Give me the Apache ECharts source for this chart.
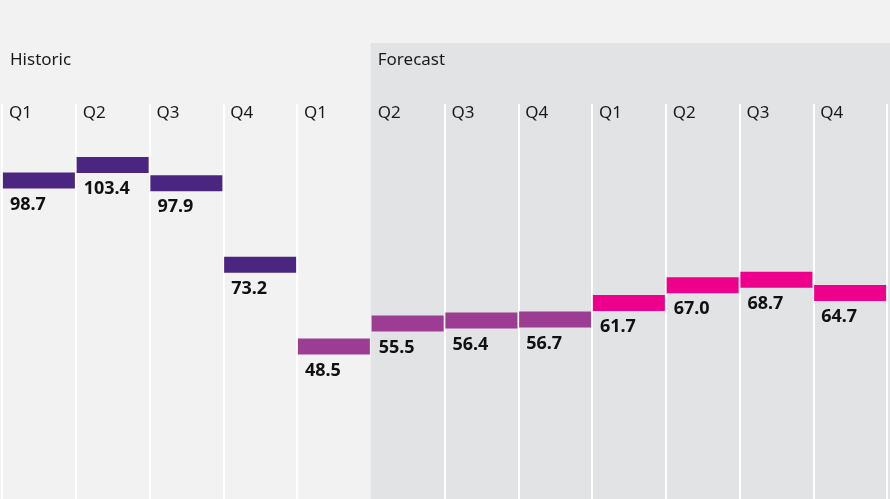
<!DOCTYPE html>
<html>
<head>
<meta charset="utf-8">
<script src="https://cdn.jsdelivr.net/npm/echarts@6/dist/echarts.min.js"></script>
<style>
    html, body { margin: 0; padding: 0; background: #f2f2f2; }
    #chart { width: 890px; height: 499px; }
</style>
</head>
<body>
<div id="chart"></div>
<script>
// quarters across three years
const quarters = ['Q1', 'Q2', 'Q3', 'Q4', 'Q1', 'Q2', 'Q3', 'Q4', 'Q1', 'Q2', 'Q3', 'Q4']
const periodYear = [1, 1, 1, 1, 2, 2, 2, 2, 3, 3, 3, 3]
const values = [98.7, 103.4, 97.9, 73.2, 48.5, 55.5, 56.4, 56.7, 61.7, 67.0, 68.7, 64.7]
const sectionLabels = ['Historic', 'Forecast']
const firstForecast = 5

const FONT = 'Noto Sans'
const yearColors = { 1: '#4b2680', 2: '#9c3c93', 3: '#ec008c' }

const buildSeries = () => {
    return [1, 2, 3].map((y) => ({
        type: 'scatter',
        name: 'Y' + y,
        symbol: 'rect',
        symbolSize: [72, 16],
        symbolOffset: [0, 8],
        silent: true,
        itemStyle: { color: yearColors[y], opacity: 1 },
        label: {
            show: true,
            position: [7, 23],
            align: 'left',
            verticalAlign: 'top',
            lineHeight: 18,
            fontFamily: FONT,
            fontWeight: 'bold',
            fontSize: 18,
            color: '#111',
            formatter: (p) => Number(p.value).toFixed(1)
        },
        emphasis: { disabled: true },
        data: values.map((v, i) => (periodYear[i] === y ? v : '-'))
    }))
}

const option = {
    animation: false,
    backgroundColor: '#f2f2f2',
    grid: { left: 2, right: 3, top: 104, bottom: 0 },
    xAxis: {
        type: 'category',
        position: 'top',
        data: quarters,
        boundaryGap: true,
        axisLine: { show: false },
        axisTick: { show: false },
        splitLine: {
            show: true,
            interval: (i) => i !== firstForecast,
            lineStyle: { color: '#ffffff', width: 2 }
        },
        axisLabel: {
            inside: true,
            margin: 1,
            interval: 0,
            formatter: (v) => '{q|' + v + '}',
            rich: {
                q: {
                    width: 60,
                    align: 'left',
                    lineHeight: 17,
                    fontFamily: FONT,
                    fontSize: 17,
                    color: '#1a1a1a'
                }
            }
        }
    },
    yAxis: {
        type: 'value',
        min: 0,
        max: 119.4,
        show: false,
        splitLine: { show: false }
    },
    series: buildSeries()
}

const chart = echarts.init(document.getElementById('chart'))
chart.setOption(option)

// section backdrop and headings placed from the category scale
const c0 = chart.convertToPixel({ xAxisIndex: 0 }, 0)
const bandW = chart.convertToPixel({ xAxisIndex: 0 }, 1) - c0
const bandLeft = (i) => c0 + bandW * i - bandW / 2
const fx = bandLeft(firstForecast)

const headingStyle = (text) => ({
    text,
    fontFamily: FONT,
    fontSize: 17,
    fill: '#1a1a1a',
    verticalAlign: 'middle'
})

chart.setOption({
    graphic: [
        {
            type: 'rect',
            z: -10,
            silent: true,
            shape: { x: fx, y: 43, width: 890 - fx, height: 460 },
            style: { fill: '#e2e3e5' }
        },
        {
            type: 'text',
            silent: true,
            x: bandLeft(0) + 8,
            y: 60,
            style: headingStyle(sectionLabels[0])
        },
        {
            type: 'text',
            silent: true,
            x: fx + 7,
            y: 60,
            style: headingStyle(sectionLabels[1])
        }
    ]
})
</script>
</body>
</html>
